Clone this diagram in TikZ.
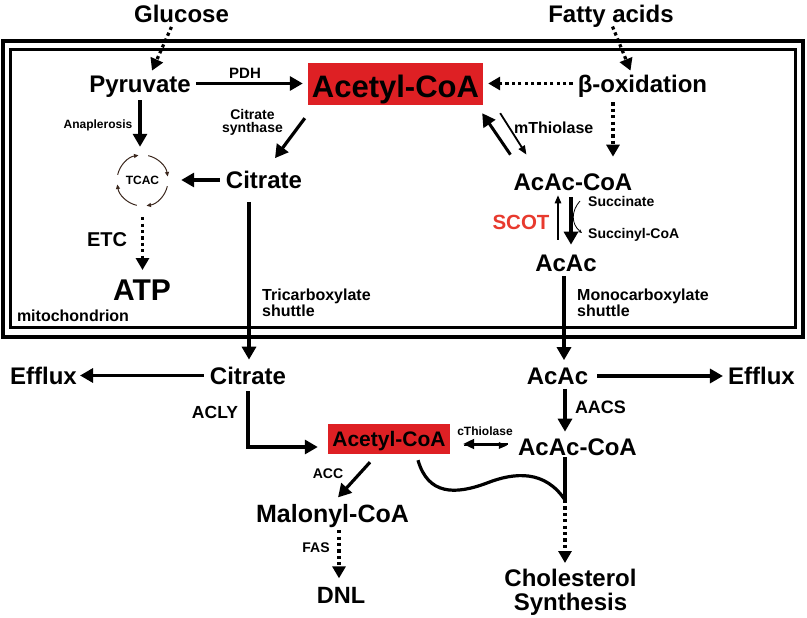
\documentclass[tikz,border=0pt]{standalone}
\usepackage{fontspec}
\setmainfont{Liberation Sans}
\usetikzlibrary{arrows.meta}
\definecolor{acred}{RGB}{222,32,36}
\definecolor{scotred}{RGB}{232,58,46}
\definecolor{tcbrown}{RGB}{60,40,30}
\begin{document}
\begin{tikzpicture}[x=1pt,y=-1pt,
  lab/.style={inner sep=0pt,text height=0.72*#1pt,text depth=0pt,font=\bfseries\fontsize{#1pt}{#1pt}\selectfont},
  lab/.default=24,
  arr/.style={line width=3.2pt,-{Triangle[length=13pt,width=14pt]}},
  dotarr/.style={line width=3.2pt,dash pattern=on 3.2pt off 3.2pt,-{Triangle[length=12pt,width=13pt]}},
  thinarr/.style={line width=1.3pt,-{Triangle[length=8pt,width=6.5pt]}},
  tcarc/.style={draw=tcbrown,line width=1pt,-{Triangle[length=4.5pt,width=4pt]}},
  redbox/.style={fill=acred,inner sep=0pt,text depth=0pt}
]
\useasboundingbox (0,0) rectangle (807,618);
% mitochondrion double border
\draw[line width=3.4pt] (3,41) rectangle (803,337);
\draw[line width=2.5pt] (10.5,49.5) rectangle (795.5,327.5);

% nodes
\node[lab] (glu) at (181.5,13.5) {Glucose};
\node[lab] (fa) at (611,14) {Fatty acids};
\node[lab] (pyr) at (140,83.5) {Pyruvate};
\node[redbox,minimum width=175pt,minimum height=42pt,text height=26.3pt,font=\bfseries\fontsize{31pt}{31pt}\selectfont] (acoa) at (395.5,84) {Acetyl-CoA};
\node[lab] (box) at (642.5,83.5) {β-oxidation};
\node[lab=15] (pdh) at (245,73) {PDH};
\node[lab=12] (anap) at (98,124) {Anaplerosis};
\node[inner sep=0pt,align=center,font=\bfseries\fontsize{14pt}{13pt}\selectfont,anchor=north] (cs) at (252.5,109) {Citrate\\synthase};
\node[lab] (cit1) at (264,180) {Citrate};
\node[circle,minimum size=51pt,inner sep=0pt,font=\bfseries\fontsize{12pt}{12pt}\selectfont] (tcac) at (142.5,180.5) {TCAC};
\node[lab=20] (etc) at (107,239.5) {ETC};
\node[lab=30] (atp) at (142,290) {ATP};
\node[lab=16] (mito) at (73,315.5) {mitochondrion};
\node[inner sep=0pt,align=left,font=\bfseries\fontsize{16pt}{14pt}\selectfont,anchor=north west] (tri) at (262,288.3) {Tricarboxylate\\shuttle};
\node[lab] (acc1) at (573,181.5) {AcAc-CoA};
\node[lab=16,anchor=west] (mthio) at (514,128) {mThiolase};
\node[lab=14,anchor=west] (succ) at (588,201) {Succinate};
\node[lab=14,anchor=west] (succy) at (588,233) {Succinyl-CoA};
\node[lab=20.5,text=scotred] (scot) at (521,222.5) {SCOT};
\node[lab] (acac1) at (566,262.5) {AcAc};
\node[inner sep=0pt,align=left,font=\bfseries\fontsize{16pt}{14pt}\selectfont,anchor=north west] (mono) at (577,288.3) {Monocarboxylate\\shuttle};
\node[lab] (cit2) at (248,375.5) {Citrate};
\node[lab] (effL) at (43.5,376) {Efflux};
\node[lab] (acac2) at (557.5,376) {AcAc};
\node[lab] (effR) at (761.5,376) {Efflux};
\node[lab=17.5] (acly) at (215,412.5) {ACLY};
\node[redbox,minimum width=122pt,minimum height=30pt,text height=15.1pt,font=\bfseries\fontsize{21pt}{21pt}\selectfont] (acoa2) at (389,439) {Acetyl-CoA};
\node[lab=12] (cthio) at (485,431) {cThiolase};
\node[lab] (acc2) at (577.5,446.5) {AcAc-CoA};
\node[lab=18] (aacs) at (600.5,407) {AACS};
\node[lab=14] (accl) at (328,473) {ACC};
\node[lab=25] (mal) at (332.5,513) {Malonyl-CoA};
\node[lab=14] (fas) at (316,547) {FAS};
\node[lab=23.5] (dnl) at (341,595) {DNL};
\node[inner sep=0pt,align=center,font=\bfseries\fontsize{24pt}{24pt}\selectfont,anchor=north] (chol) at (570.5,569.4) {Cholesterol\\Synthesis};
\coordinate (j) at (565,500);

% TCA cycle arcs
\draw[tcarc] (tcac.center) ++(-167:25.5) arc[start angle=-167,end angle=-99,radius=25.5];
\draw[tcarc] (tcac.center) ++(-77:25.5) arc[start angle=-77,end angle=-9,radius=25.5];
\draw[tcarc] (tcac.center) ++(13:25.5) arc[start angle=13,end angle=81,radius=25.5];
\draw[tcarc] (tcac.center) ++(103:25.5) arc[start angle=103,end angle=171,radius=25.5];

% connectors
\draw[dotarr,shorten <=5pt] ([xshift=-8pt]glu.south) -- ([xshift=12pt,yshift=4pt]pyr.north);
\draw[dotarr,shorten <=4pt] (fa.south) -- ([xshift=-12pt,yshift=4pt]box.north);
\draw[arr,shorten <=5pt,shorten >=5pt] (pyr.east) -- (pyr.east -| acoa.west);
\draw[dotarr,shorten <=5pt,shorten >=5pt] (box.west) -- (box.west -| acoa.east);
\draw[arr,shorten <=8pt,shorten >=8pt] (pyr.south) -- (pyr.south |- tcac.north);
\draw[arr] ([xshift=-3pt,yshift=-13pt]acoa.south west) -- ([xshift=11pt,yshift=13pt]cit1.north);
\draw[arr,shorten <=6pt,shorten >=13pt] (cit1.west) -- (cit1.west -| tcac.east);
\draw[dotarr,shorten <=11pt,shorten >=9pt] (tcac.south) -- (tcac.south |- atp.north);
\draw[arr,shorten <=13pt,shorten >=7pt] ([xshift=-15pt]cit1.south) -- ([xshift=-15pt]cit1.south |- cit2.north);
\draw[dotarr,shorten <=10pt,shorten >=16pt] ([xshift=-29.5pt]box.south) -- ([xshift=-29.5pt]box.south |- acc1.north);
% mThiolase
\draw[arr,line width=3pt] ([xshift=-3pt,yshift=18pt]acc1.north west) -- ([xshift=-1pt,yshift=-8pt]acoa.south east);
\draw[line width=1.8pt,-{Triangle[length=9pt,width=7pt]}] ([xshift=17pt,yshift=-8pt]acoa.south east) -- ([xshift=13pt,yshift=18pt]acc1.north west);
% SCOT
\draw[thinarr] ([xshift=-8pt,yshift=14pt]acac1.north) -- ([xshift=-15pt,yshift=-5pt]acc1.south);
\draw[arr] ([xshift=-2pt,yshift=-7pt]acc1.south) -- ([xshift=5pt,yshift=9pt]acac1.north);
\draw[line width=0.8pt,-{Stealth[length=4pt,width=3.5pt]}] ([xshift=-8pt]succ.west) .. controls (571,211) and (571,224) .. ([xshift=-6pt]succy.west);
\draw[arr,shorten <=5pt,shorten >=7pt] ([xshift=-2pt]acac1.south) -- ([xshift=-2pt]acac1.south |- acac2.north);
% cytosol
\draw[arr,shorten <=6pt,shorten >=3pt] (cit2.west) -- (cit2.west -| effL.east);
\draw[arr,shorten <=9pt,shorten >=5pt] (acac2.east) -- (acac2.east -| effR.west);
\draw[arr,shorten <=7pt,shorten >=10pt] (cit2.south) |- ([yshift=-8pt]acoa2.west);
\draw[arr,shorten <=4pt,shorten >=6pt] ([xshift=7.5pt]acac2.south) -- ([xshift=7.5pt]acac2.south |- acc2.north);
\draw[line width=2.2pt,-{Triangle[length=11pt,width=10pt]},shorten <=10pt,shorten >=13pt] ([yshift=2.5pt]acc2.west) -- ([yshift=2.5pt]acc2.west -| acoa2.east);
\draw[thinarr,shorten <=14pt,shorten >=11pt] ([yshift=-6.5pt]acoa2.east) -- ([yshift=-6.5pt]acoa2.east -| acc2.west);
\draw[arr] ([xshift=-19pt,yshift=-8pt]acoa2.south) -- ([xshift=5.5pt,yshift=6.4pt]mal.north);
\draw[dotarr,shorten <=8pt,shorten >=8pt] ([xshift=6.5pt]mal.south) -- ([xshift=6.5pt]mal.south |- dnl.north);
\draw[line width=3.2pt,shorten <=2pt] ([xshift=-12.5pt]acc2.south) -- (j);
\draw[line width=3.2pt] ([xshift=29pt,yshift=-6pt]acoa2.south) .. controls (428,495) and (455,495) .. (487,483) .. controls (515,472) and (545,470) .. (j);
\draw[dotarr,shorten >=6.4pt] (j) -- (j |- chol.north);
\end{tikzpicture}
\end{document}
